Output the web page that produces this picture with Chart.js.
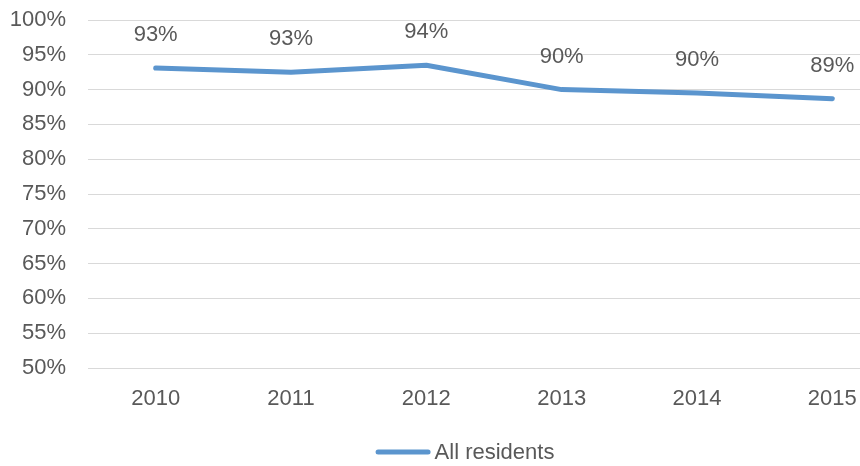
<!DOCTYPE html>
<html>
<head>
<meta charset="utf-8">
<script src="https://cdn.jsdelivr.net/npm/chart.js@4/dist/chart.umd.min.js"></script>
<style>
  html, body { margin: 0; padding: 0; background: #fff; overflow: hidden; }
  #frame { width: 860px; height: 466px; overflow: hidden; position: relative; }
  #chart { display: block; }
</style>
</head>
<body>
<div id="frame"><canvas id="chart" width="930" height="466"></canvas></div>
<script>
// Share of all residents, by year
const years = ['2010', '2011', '2012', '2013', '2014', '2015'];
const allResidents = [93.1, 92.5, 93.5, 90.0, 89.5, 88.7];
const seriesName = 'All residents';
const yTicks = { min: 50, max: 100, step: 5 };

const TEXT = '#595959';
const BLUE = '#5B95CE';
const FONT = { family: '"Liberation Sans", Arial, sans-serif', size: 22 };

// Value labels above each point
const valueLabels = {
  id: 'valueLabels',
  afterDatasetsDraw(chart) {
    const ctx = chart.ctx;
    const meta = chart.getDatasetMeta(0);
    const data = chart.data.datasets[0].data;
    ctx.save();
    ctx.font = FONT.size + 'px ' + FONT.family;
    ctx.fillStyle = TEXT;
    ctx.textAlign = 'center';
    ctx.textBaseline = 'middle';
    meta.data.forEach((pt, i) => {
      ctx.fillText(Math.round(data[i]) + '%', pt.x, pt.y - 33);
    });
    ctx.restore();
  }
};

// Single-entry legend: a short line swatch followed by the series name
const lineLegend = {
  id: 'lineLegend',
  afterDraw(chart) {
    const ctx = chart.ctx;
    const ds = chart.data.datasets[0];
    ctx.save();
    ctx.font = FONT.size + 'px ' + FONT.family;
    const swatch = 55, gap = 4;
    const tw = ctx.measureText(ds.label).width;
    const total = swatch + gap + tw;
    const x0 = chart.width / 2 - total / 2;
    const y = 452;
    ctx.strokeStyle = ds.borderColor;
    ctx.lineWidth = 5;
    ctx.lineCap = 'round';
    ctx.beginPath();
    ctx.moveTo(x0 + 2.5, y);
    ctx.lineTo(x0 + swatch - 2.5, y);
    ctx.stroke();
    ctx.fillStyle = TEXT;
    ctx.textAlign = 'left';
    ctx.textBaseline = 'middle';
    ctx.fillText(ds.label, x0 + swatch + gap, y + 1);
    ctx.restore();
  }
};

new Chart(document.getElementById('chart'), {
  type: 'line',
  data: {
    labels: years,
    datasets: [{
      label: seriesName,
      data: allResidents,
      borderColor: BLUE,
      backgroundColor: BLUE,
      borderWidth: 5,
      borderCapStyle: 'round',
      borderJoinStyle: 'round',
      tension: 0,
      pointRadius: 0,
      pointHoverRadius: 0,
      fill: false
    }]
  },
  options: {
    responsive: false,
    animation: false,
    events: [],
    layout: { padding: { top: 20, right: 30, left: 0, bottom: 48 } },
    plugins: {
      legend: { display: false },
      tooltip: { enabled: false },
      title: { display: false }
    },
    scales: {
      x: {
        offset: true,
        grid: { display: false },
        border: { display: false },
        ticks: { color: TEXT, font: FONT, padding: 10, maxRotation: 0 },
        afterFit(scale) { scale.height = 50; }
      },
      y: {
        min: yTicks.min,
        max: yTicks.max,
        grid: { color: '#D9D9D9', lineWidth: 1, drawTicks: false },
        border: { display: false },
        ticks: {
          stepSize: yTicks.step,
          color: TEXT,
          font: FONT,
          padding: 22,
          callback: v => v + '%'
        },
        afterFit(scale) {
          scale.width = 88;
          scale.paddingTop = 0;
          scale.paddingBottom = 0;
        }
      }
    }
  },
  plugins: [valueLabels, lineLegend]
});
</script>
</body>
</html>
